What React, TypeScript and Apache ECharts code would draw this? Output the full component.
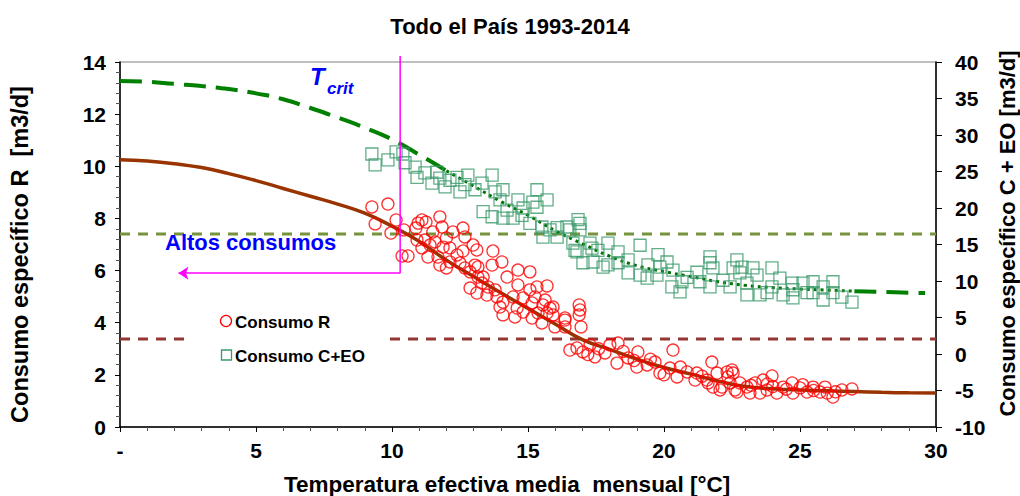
import React, { useEffect, useRef } from 'react';
import * as echarts from 'echarts';

const FONT = '"Liberation Sans", Arial, Helvetica, sans-serif';

// ---- Data ----
const chartTitle = 'Todo el País 1993-2014';
const xName = 'Temperatura efectiva media  mensual [°C]';
const yLeftName = 'Consumo específico R  [m3/d]';
const yRightName = 'Consumo específico C + EO [m3/d]';

// Fitted curve for Consumo R (left axis)
const curveT = [0, 1, 2, 3, 4, 5, 6, 7, 8, 9, 10, 11, 12, 13, 14, 15, 16, 17, 18, 19, 20, 21, 22, 23, 24, 25, 26, 27, 28, 29, 30];
const curveR = [10.25, 10.2, 10.1, 9.95, 9.72, 9.45, 9.15, 8.85, 8.55, 8.2, 7.7, 7.12, 6.4, 5.77, 5.15, 4.55, 3.95, 3.35, 2.98, 2.6, 2.28, 2.03, 1.76, 1.55, 1.47, 1.42, 1.39, 1.36, 1.33, 1.31, 1.3];

// Fitted curve for Consumo C+EO (right axis)
const curveT2 = [0, 1, 2, 3, 4, 5, 6, 7, 8, 9, 10, 11, 12, 13, 14, 15, 16, 17, 18, 19, 20, 21, 22, 23, 24, 25, 26, 27, 28, 29, 29.6];
const curveCEO = [37.4, 37.3, 37.0, 36.7, 36.3, 35.7, 34.9, 33.7, 32.4, 31.0, 29.4, 27.3, 25.1, 23.0, 20.9, 19.0, 16.9, 15.1, 13.4, 12.1, 11.3, 10.6, 9.9, 9.4, 9.1, 8.9, 8.75, 8.6, 8.5, 8.4, 8.35];
// indices where the C+EO curve passes through the data cloud (drawn thinner there)
const cloudStartIdx = 12;
const cloudEndIdx = 27;

// Reference levels (left axis)
const altosConsumosLevel = 7.4;
const bajoLevel = 3.38;

// T crit marker
const tCrit = 10.3;
const tCritLevel = 5.9;
const tCritTop = 14.23;
const arrowEnd = 2.15;

// Scatter: Consumo R [T, m3/d]
const consumoR: [number, number][] = [
  [9.26, 8.44], [9.85, 8.55], [9.38, 7.79], [9.96, 7.44], [10.15, 7.94], [10.44, 7.56], [10.37, 6.56], [10.59, 6.56],
  [10.88, 7.63], [11.1, 7.94], [11.25, 7.86], [11.76, 8.06], [11.84, 7.67], [11.5, 7.48], [11.21, 7.17], [11.1, 6.87],
  [11.4, 6.98], [11.58, 7.1], [12.0, 7.25], [12.13, 6.87], [12.24, 7.48], [12.61, 7.63], [12.68, 7.29], [12.98, 6.98],
  [13.12, 6.79], [11.32, 6.52], [11.69, 6.52], [11.76, 6.21], [12.0, 6.1], [12.13, 6.33], [12.5, 6.29], [12.68, 6.1],
  [12.87, 5.95], [13.05, 6.21], [13.16, 6.14], [13.16, 5.75], [13.35, 5.75], [13.71, 6.75], [13.68, 6.21], [14.04, 6.33],
  [14.23, 5.75], [14.63, 6.02], [15.07, 5.95], [12.87, 5.33], [13.12, 5.14], [13.49, 5.06], [13.79, 5.26], [13.86, 4.99],
  [14.08, 4.79], [13.97, 4.6], [14.08, 4.3], [14.45, 4.99], [14.63, 5.45], [14.82, 4.95], [14.6, 4.56], [14.52, 4.22],
  [14.82, 4.41], [15.07, 5.26], [15.15, 4.76], [15.26, 4.99], [15.33, 5.37], [15.7, 5.41], [15.55, 4.68], [15.37, 4.37],
  [15.15, 4.18], [15.51, 3.99], [15.81, 4.56], [15.92, 4.3], [15.99, 3.84], [16.36, 4.1], [16.36, 3.84], [16.88, 4.68],
  [16.88, 4.3], [16.95, 3.84], [16.91, 4.49], [10.92, 7.17], [10.96, 7.82], [11.88, 6.9], [12.39, 6.6], [12.61, 6.75],
  [13.31, 5.52], [13.53, 5.37], [15.63, 4.87], [15.92, 4.6], [15.7, 4.37], [16.36, 4.18],
  [16.54, 2.95], [16.8, 3.03], [17.02, 2.88], [17.28, 3.15], [17.46, 2.69], [17.83, 2.84], [18.01, 3.15], [18.31, 3.22],
  [18.27, 2.45], [18.68, 2.65], [19.04, 2.88], [19.0, 2.3], [19.38, 2.38], [19.67, 2.49], [19.85, 2.07], [20.22, 2.26],
  [20.33, 2.95], [20.48, 1.92], [20.85, 2.11], [21.14, 1.8], [21.21, 2.07], [21.76, 2.49], [21.62, 1.69], [21.95, 2.07],
  [22.13, 1.53], [22.35, 1.92], [22.61, 1.42], [22.5, 2.19], [17.6, 3.0], [18.5, 2.9], [19.5, 2.6], [20.6, 2.3],
  [20.0, 2.0], [21.4, 1.95], [18.9, 2.55], [17.2, 2.78],
  [22.32, 2.11], [22.54, 2.07], [21.8, 1.53], [22.68, 1.34], [23.05, 1.53], [23.35, 1.69], [23.64, 1.8], [23.97, 1.96],
  [23.79, 1.42], [24.15, 1.3], [24.38, 1.53], [24.71, 1.69], [24.74, 1.3], [25.0, 1.5], [25.26, 1.34], [25.48, 1.53],
  [25.74, 1.34], [25.92, 1.53], [26.0, 1.3], [26.21, 1.15], [26.54, 1.42], [26.91, 1.46], [23.16, 1.3], [22.79, 1.69],
  [22.43, 1.69], [21.58, 1.8], [22.06, 1.42], [23.53, 1.3], [23.2, 1.6], [24.0, 1.55], [24.5, 1.45], [25.5, 1.4],
  [26.3, 1.35], [23.8, 1.65], [25.1, 1.62],
];

// Scatter: Consumo C+EO [T, m3/d] (right axis)
const consumoCEO: [number, number][] = [
  [9.26, 27.4], [9.38, 25.9], [9.85, 26.6], [10.15, 27.7], [10.4, 27.4], [10.48, 26.2], [10.85, 25.6], [10.92, 24.2],
  [11.21, 24.8], [11.65, 24.9], [11.76, 24.1], [11.47, 23.4], [11.95, 22.9], [12.13, 23.8], [12.39, 24.2], [12.79, 24.5],
  [12.68, 23.2], [12.5, 22.2], [13.05, 22.5], [13.31, 23.4], [13.68, 24.5], [13.79, 22.2], [14.08, 22.5], [13.97, 21.1],
  [14.23, 19.7], [14.63, 21.1], [14.82, 20.0], [15.33, 22.5], [15.7, 21.1], [15.18, 20.8], [15.33, 20.1], [13.35, 19.5],
  [13.68, 18.8], [14.08, 18.6], [14.45, 18.6], [14.78, 19.0], [15.07, 17.9], [15.51, 17.4], [15.81, 17.0], [16.07, 17.3],
  [16.54, 17.0], [16.91, 17.9], [16.91, 17.0], [15.55, 16.0], [16.07, 16.0], [16.8, 14.0], [17.35, 14.5],
  [16.84, 18.4], [16.43, 17.4], [16.73, 14.2], [17.02, 12.5], [17.28, 15.2], [17.57, 14.2], [17.94, 15.2], [17.94, 12.2],
  [18.31, 14.0], [18.31, 12.5], [18.68, 12.9], [19.12, 14.9], [19.12, 10.8], [19.41, 12.2], [19.78, 13.6], [19.74, 10.8],
  [20.11, 12.6], [20.33, 11.5], [20.29, 9.2], [20.59, 8.5], [20.85, 10.5], [21.21, 11.2], [21.69, 13.3], [21.8, 11.8],
  [21.69, 9.2], [22.17, 10.1], [22.54, 11.8], [22.79, 11.1], [22.87, 11.9], [22.43, 9.2], [23.05, 9.7], [23.05, 8.1],
  [23.42, 10.8], [23.53, 8.1], [23.97, 11.8], [23.97, 9.2], [24.26, 10.4], [24.38, 8.1], [24.71, 9.7], [24.74, 7.7],
  [25.11, 9.7], [25.26, 8.4], [25.48, 9.9], [25.85, 9.2], [25.85, 7.4], [26.21, 8.4], [26.54, 7.8], [26.91, 7.1],
  [16.65, 15.2], [17.39, 12.6], [17.76, 11.9], [18.68, 11.1], [19.38, 10.4], [19.85, 11.9], [20.66, 9.9], [21.32, 9.9],
  [21.69, 12.5], [22.68, 12.9], [23.27, 11.8], [23.79, 8.4], [24.74, 8.8], [25.48, 8.4], [26.21, 9.9],
];

const legendLabels = ['Consumo R', 'Consumo C+EO'];

const zip = (a: number[], b: number[]) => a.map((v, i) => [v, b[i]]);

export default function App() {
  const ref = useRef<HTMLDivElement>(null);
  useEffect(() => {
    if (!ref.current) return;
    const chart = echarts.init(ref.current, undefined, { renderer: 'svg' });
    const axisText = { fontFamily: FONT, fontSize: 21, fontWeight: 'bold' as const, color: '#000' };
    const nameText = { fontFamily: FONT, fontSize: 22, fontWeight: 'bold' as const, color: '#000' };
    const ceoCurve = zip(curveT2, curveCEO);
    const ceoStyle = (thin: boolean) => ({
      type: 'line',
      yAxisIndex: 1,
      smooth: true,
      symbol: 'none',
      silent: true,
      lineStyle: thin ? { color: '#007000', width: 3, type: [3, 4] } : { color: '#008000', width: 4, type: [22, 10] },
      z: 2,
    });
    const option: any = {
      animation: false,
      textStyle: { fontFamily: FONT },
      title: {
        text: chartTitle,
        left: 'center',
        top: 10,
        textStyle: { fontFamily: FONT, fontSize: 22, fontWeight: 'bold', color: '#000' },
      },
      grid: {
        left: 120,
        right: 84,
        top: 62,
        bottom: 69,
        outerBoundsMode: 'none',
        containLabel: false,
        show: true,
        borderColor: '#808080',
        borderWidth: 1,
      },
      xAxis: {
        type: 'value',
        min: 0,
        max: 30,
        interval: 5,
        name: xName,
        nameLocation: 'middle',
        nameGap: 46,
        nameTextStyle: { ...nameText, fontSize: 22.5, padding: [0, 42, 0, 0] },
        axisLine: { onZero: false, lineStyle: { color: '#000', width: 1.5 } },
        axisTick: { length: 5, lineStyle: { color: '#000' } },
        minorTick: { show: true, splitNumber: 5, length: 4, lineStyle: { color: '#555' } },
        splitLine: { show: false },
        axisLabel: { ...axisText, margin: 13, formatter: (v: number) => (v === 0 ? '-' : String(v)) },
      },
      yAxis: [
        {
          type: 'value',
          position: 'left',
          min: 0,
          max: 14,
          interval: 2,
          name: yLeftName,
          nameLocation: 'middle',
          nameRotate: 90,
          nameGap: 88,
          nameTextStyle: { ...nameText, fontSize: 23.5, padding: [0, 20, 0, 0] },
          axisLine: { show: true, onZero: false, lineStyle: { color: '#000', width: 1.5 } },
          axisTick: { show: true, length: 5, lineStyle: { color: '#000' } },
          minorTick: { show: true, splitNumber: 5, length: 4, lineStyle: { color: '#555' } },
          splitLine: { show: false },
          axisLabel: { ...axisText, margin: 14 },
        },
        {
          type: 'value',
          position: 'right',
          min: -10,
          max: 40,
          interval: 5,
          name: yRightName,
          nameLocation: 'middle',
          nameRotate: 90,
          nameGap: 57,
          nameTextStyle: { ...nameText, padding: [0, 0, 0, 22] },
          axisLine: { show: true, onZero: false, lineStyle: { color: '#000', width: 1.5 } },
          axisTick: { show: true, length: 6, lineStyle: { color: '#000' } },
          splitLine: { show: false },
          axisLabel: { ...axisText, margin: 19 },
        },
      ],
      series: [
        {
          type: 'line',
          yAxisIndex: 0,
          data: [[0, altosConsumosLevel], [30, altosConsumosLevel]],
          symbol: 'none',
          silent: true,
          lineStyle: { color: '#77933C', width: 3, type: [10, 8] },
          z: 1,
        },
        {
          type: 'line',
          yAxisIndex: 0,
          data: [[0, bajoLevel], [30, bajoLevel]],
          symbol: 'none',
          silent: true,
          lineStyle: { color: '#953735', width: 3, type: [10, 8] },
          z: 1,
        },
        {
          type: 'line',
          yAxisIndex: 0,
          data: zip(curveT, curveR),
          smooth: true,
          symbol: 'none',
          silent: true,
          lineStyle: { color: '#993300', width: 3.5 },
          z: 2,
        },
        { ...ceoStyle(false), data: ceoCurve.slice(0, cloudStartIdx + 1) },
        { ...ceoStyle(true), data: ceoCurve.slice(cloudStartIdx, cloudEndIdx + 1) },
        { ...ceoStyle(false), data: ceoCurve.slice(cloudEndIdx) },
        {
          name: legendLabels[0],
          type: 'scatter',
          yAxisIndex: 0,
          data: consumoR,
          symbol: 'circle',
          symbolSize: 12,
          itemStyle: { color: 'rgba(255,255,255,0)', borderColor: '#FF0000', borderWidth: 1.3 },
          z: 3,
        },
        {
          name: legendLabels[1],
          type: 'scatter',
          yAxisIndex: 1,
          data: consumoCEO,
          symbol: 'rect',
          symbolSize: 12,
          itemStyle: { color: 'rgba(255,255,255,0)', borderColor: '#3A9A6A', borderWidth: 1.3 },
          z: 3,
        },
        {
          type: 'line',
          yAxisIndex: 0,
          data: [[tCrit, tCritTop], [tCrit, tCritLevel]],
          clip: false,
          symbol: 'none',
          silent: true,
          lineStyle: { color: '#FF00FF', width: 1.5 },
          z: 4,
        },
        {
          type: 'line',
          yAxisIndex: 0,
          data: [],
          silent: true,
          markLine: {
            silent: true,
            symbol: ['none', 'arrow'],
            symbolSize: 10,
            label: { show: false },
            lineStyle: { color: '#FF00FF', width: 1.5, type: 'solid' },
            data: [[{ coord: [tCrit, tCritLevel] }, { coord: [arrowEnd, tCritLevel] }]],
          },
          z: 4,
        },
      ],
      graphic: [
        {
          type: 'rect',
          z: 100,
          shape: { x: 187, y: 300, width: 200, height: 72 },
          style: { fill: '#fff' },
        },
        {
          type: 'circle',
          z: 101,
          shape: { cx: 226, cy: 321, r: 5.5 },
          style: { fill: 'none', stroke: '#FF0000', lineWidth: 1.3 },
        },
        {
          type: 'text',
          z: 101,
          x: 235,
          y: 322,
          style: { text: legendLabels[0], font: `bold 17px ${FONT}`, fill: '#000', verticalAlign: 'middle' },
        },
        {
          type: 'rect',
          z: 101,
          shape: { x: 221.5, y: 350, width: 10, height: 10 },
          style: { fill: 'none', stroke: '#3A9A6A', lineWidth: 1.3 },
        },
        {
          type: 'text',
          z: 101,
          x: 235,
          y: 356,
          style: { text: legendLabels[1], font: `bold 17px ${FONT}`, fill: '#000', verticalAlign: 'middle' },
        },
        {
          type: 'text',
          z: 101,
          x: 165,
          y: 242,
          style: { text: 'Altos consumos', font: `bold 22px ${FONT}`, fill: '#0000FF', verticalAlign: 'middle' },
        },
        {
          type: 'text',
          z: 101,
          x: 310,
          y: 88,
          style: { text: 'T', font: `italic bold 24px ${FONT}`, fill: '#0000FF', verticalAlign: 'bottom' },
        },
        {
          type: 'text',
          z: 101,
          x: 327,
          y: 97,
          style: { text: 'crit', font: `italic bold 17px ${FONT}`, fill: '#0000FF', verticalAlign: 'bottom' },
        },
      ],
    };
    chart.setOption(option);
    return () => chart.dispose();
  }, []);
  return <div ref={ref} style={{ position: 'absolute', left: 0, top: 0, width: 1020, height: 496 }} />;
}
